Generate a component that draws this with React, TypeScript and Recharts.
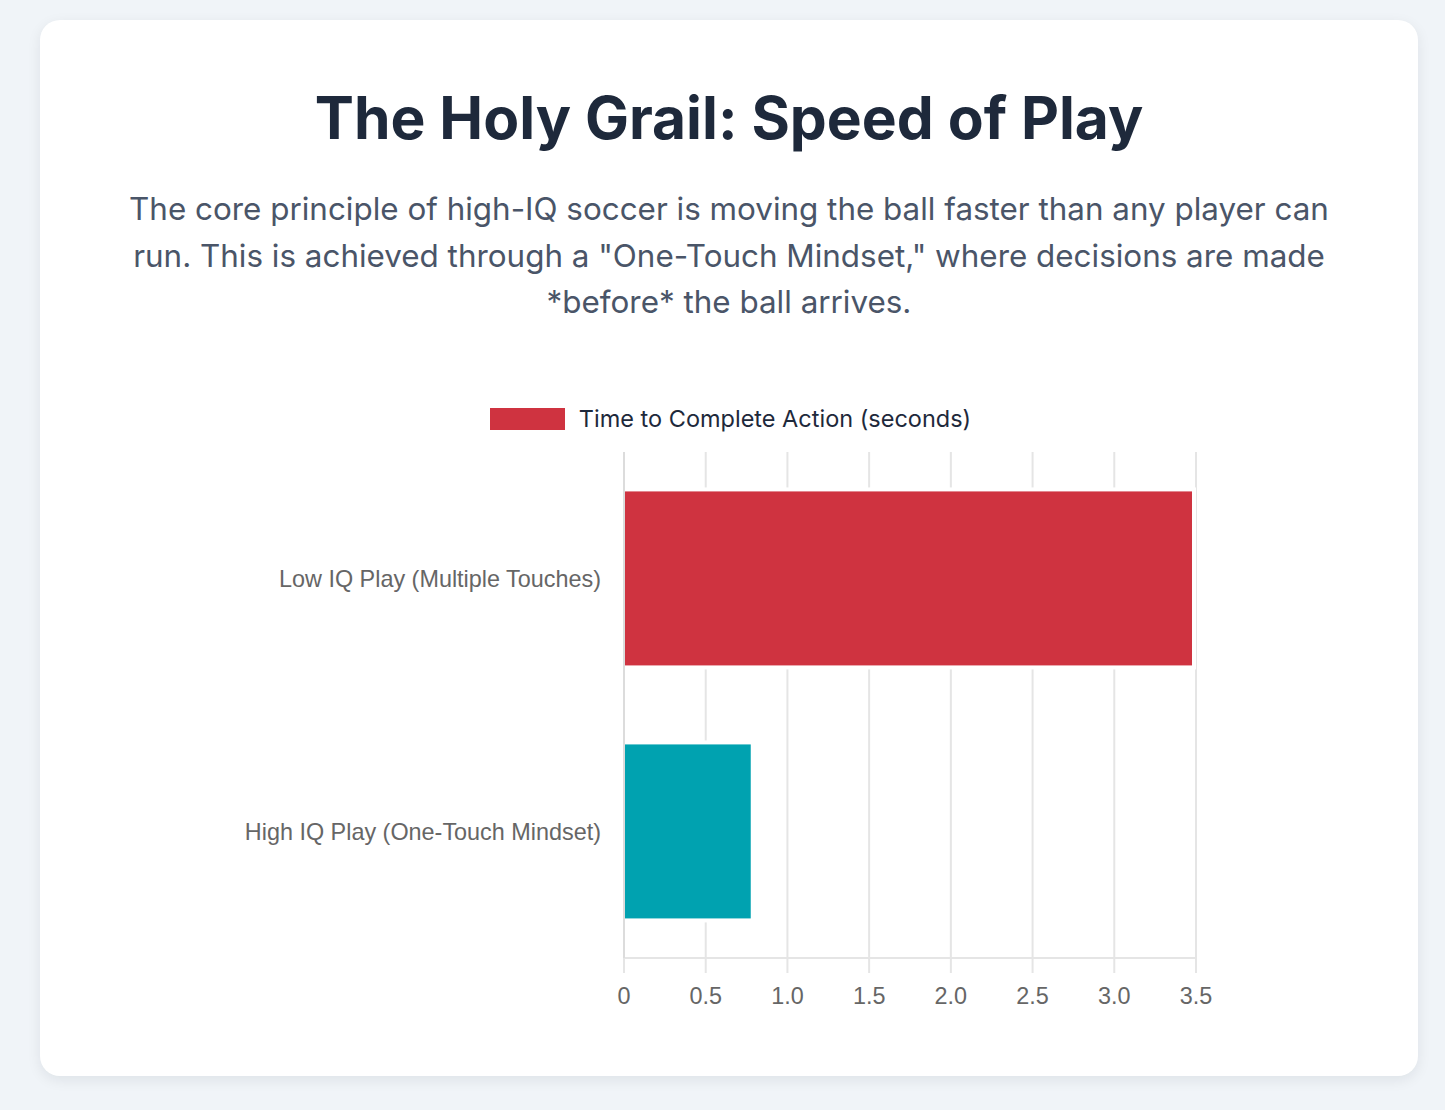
import React from "react";
import { BarChart, Bar, XAxis, YAxis, CartesianGrid, Legend, Cell } from "recharts";

const categories = ["Low IQ Play (Multiple Touches)", "High IQ Play (One-Touch Mindset)"];
const seconds = [3.5, 0.8];
const barColors = ["#cf3340", "#00a2b0"];
const xTicks = [0, 0.5, 1, 1.5, 2, 2.5, 3, 3.5];
const seriesName = "Time to Complete Action (seconds)";

const data = categories.map((c, i) => ({ name: c, value: seconds[i], color: barColors[i] }));

const BORDER = 4;
const AXIS_FONT = "'Liberation Sans', Arial, Helvetica, sans-serif";

const BarShape = (props: any) => {
  const { x, y, width, height, payload } = props;
  if (width <= 0) return null;
  return (
    <g>
      <rect x={x} y={y} width={width} height={height} fill="#ffffff" />
      <rect
        x={x}
        y={y + BORDER}
        width={Math.max(0, width - BORDER)}
        height={Math.max(0, height - 2 * BORDER)}
        fill={payload.color}
      />
    </g>
  );
};

const LegendContent = () => (
  <div
    style={{
      display: "flex",
      justifyContent: "center",
      alignItems: "center",
      fontFamily: "Inter, sans-serif",
      fontSize: 23.5,
      color: "#1e293b",
      lineHeight: "22px",
      paddingLeft: 3,
    }}
  >
    <span
      style={{
        display: "inline-block",
        width: 75,
        height: 22,
        background: barColors[0],
        marginRight: 14,
      }}
    />
    <span>{seriesName}</span>
  </div>
);

export default function App() {
  return (
    <div
      style={{
        position: "absolute",
        left: 0,
        top: 0,
        width: 1445,
        height: 1110,
        background: "#f0f4f8",
        overflow: "hidden",
      }}
    >
      <div
        style={{
          position: "absolute",
          left: 40,
          top: 20,
          width: 1378,
          height: 1056,
          background: "#ffffff",
          borderRadius: 20,
          boxShadow: "0 4px 14px rgba(15, 23, 42, 0.08)",
        }}
      />
      <div
        style={{
          position: "absolute",
          left: 40,
          top: 88,
          width: 1378,
          textAlign: "center",
          fontFamily: "Inter, sans-serif",
          fontWeight: 700,
          fontSize: 58.7,
          lineHeight: "60px",
          color: "#1e293b",
        }}
      >
        The Holy Grail: Speed of Play
      </div>
      <div
        style={{
          position: "absolute",
          left: 40,
          top: 186,
          width: 1378,
          textAlign: "center",
          fontFamily: "Inter, sans-serif",
          fontSize: 31.4,
          lineHeight: "46.7px",
          color: "#4a5568",
        }}
      >
        The core principle of high-IQ soccer is moving the ball faster than any player can
        <br />
        run. This is achieved through a "One-Touch Mindset," where decisions are made
        <br />
        *before* the ball arrives.
      </div>
      <div style={{ position: "absolute", left: 40, top: 380 }}>
        <BarChart
          width={1378}
          height={640}
          data={data}
          layout="vertical"
          margin={{ top: 72, right: 222, bottom: 0, left: 0 }}
          barCategoryGap="14%"
        >
          <CartesianGrid horizontal={false} stroke="#e5e5e5" strokeWidth={2} />
          <XAxis
            type="number"
            domain={[0, 3.5]}
            ticks={xTicks}
            interval={0}
            height={62}
            tickSize={15}
            tickMargin={14}
            tickFormatter={(v: number) => (v === 0 ? "0" : v.toFixed(1))}
            axisLine={{ stroke: "#e5e5e5", strokeWidth: 2 }}
            tickLine={{ stroke: "#e5e5e5", strokeWidth: 2 }}
            tick={{ fill: "#666666", fontSize: 23.4, fontFamily: AXIS_FONT }}
          />
          <YAxis
            type="category"
            dataKey="name"
            width={584}
            tickSize={0}
            tickMargin={23}
            axisLine={{ stroke: "#dcdcdc", strokeWidth: 2 }}
            tickLine={false}
            tick={{ fill: "#666666", fontSize: 23.4, fontFamily: AXIS_FONT }}
          />
          <Legend
            layout="horizontal"
            verticalAlign="middle"
            align="center"
            wrapperStyle={{ top: 28, left: 0, width: 1378 }}
            content={<LegendContent />}
          />
          <Bar dataKey="value" name={seriesName} isAnimationActive={false} shape={<BarShape />}>
            {data.map((d, i) => (
              <Cell key={i} fill={d.color} />
            ))}
          </Bar>
        </BarChart>
      </div>
    </div>
  );
}
